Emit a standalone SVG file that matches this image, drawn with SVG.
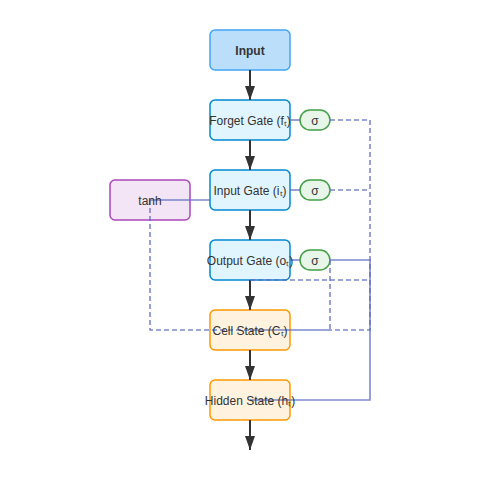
<svg xmlns="http://www.w3.org/2000/svg" width="500" height="500" viewBox="0 0 500 500">
<style>
.n rect{stroke-width:1.5}
.in rect{fill:#bbdefb;stroke:#42a5f5}
.g rect{fill:#e1f5fe;stroke:#0288d1}
.s rect{fill:#fff3e0;stroke:#ff9800}
.sig rect{fill:#e8f5e9;stroke:#43a047}
.th rect{fill:#f3e5f5;stroke:#ab47bc}
text{font-family:"Liberation Sans",Arial,sans-serif;font-size:12px;fill:#333;text-anchor:middle;dominant-baseline:central}
.flow{stroke:#333;stroke-width:2;fill:none}
.c{stroke:#5c6bc0;stroke-opacity:0.8;stroke-width:1.6;fill:none}
.d{stroke-dasharray:5 3}
</style>
<defs>
<marker id="ah" viewBox="0 0 14 10" refX="14" refY="5" markerWidth="7" markerHeight="5" orient="auto" markerUnits="strokeWidth">
<path d="M0,0 L14,5 L0,10 Z" fill="#333"/>
</marker>
</defs>
<g id="nodes">
<g id="input" class="n in"><rect x="210" y="30" width="80" height="40" rx="5"/></g>
<g id="forget" class="n g"><rect x="210" y="100" width="80" height="40" rx="5"/></g>
<g id="inputgate" class="n g"><rect x="210" y="170" width="80" height="40" rx="5"/></g>
<g id="outputgate" class="n g"><rect x="210" y="240" width="80" height="40" rx="5"/></g>
<g id="cell" class="n s"><rect x="210" y="310" width="80" height="40" rx="5"/></g>
<g id="hidden" class="n s"><rect x="210" y="380" width="80" height="40" rx="5"/></g>
<g id="sigf" class="n sig"><rect x="300" y="110" width="30" height="20" rx="10"/></g>
<g id="sigi" class="n sig"><rect x="300" y="180" width="30" height="20" rx="10"/></g>
<g id="sigo" class="n sig"><rect x="300" y="250" width="30" height="20" rx="10"/></g>
<g id="tanh" class="n th"><rect x="110" y="180" width="80" height="40" rx="5"/></g>
</g>
<g id="connectors">
<line class="flow" x1="250" y1="70" x2="250" y2="100" marker-end="url(#ah)"/>
<line class="flow" x1="250" y1="140" x2="250" y2="170" marker-end="url(#ah)"/>
<line class="flow" x1="250" y1="210" x2="250" y2="240" marker-end="url(#ah)"/>
<line class="flow" x1="250" y1="280" x2="250" y2="310" marker-end="url(#ah)"/>
<line class="flow" x1="250" y1="350" x2="250" y2="380" marker-end="url(#ah)"/>
<line class="flow" x1="250" y1="420" x2="250" y2="450" marker-end="url(#ah)"/>
<line class="c" x1="290" y1="120" x2="300" y2="120"/>
<line class="c" x1="290" y1="190" x2="300" y2="190"/>
<line class="c" x1="290" y1="260" x2="300" y2="260"/>
<line class="c" x1="150" y1="200" x2="210" y2="200"/>
<polyline class="c d" points="330,120 370,120 370,330 330,330"/>
<polyline class="c d" points="330,190 370,190"/>
<polyline class="c" points="330,260 370,260 370,400 250,400"/>
<polyline class="c d" points="250,280 370,280"/>
<polyline class="c d" points="330,260 330,330"/>
<polyline class="c d" points="150,200 150,330 250,330"/>
<polyline class="c" points="250,330 330,330"/>
</g>
<g id="labels">
<text x="250" y="51" font-weight="bold">Input</text>
<text x="250" y="121">Forget Gate (fₜ)</text>
<text x="250" y="191">Input Gate (iₜ)</text>
<text x="250" y="261">Output Gate (oₜ)</text>
<text x="250" y="331">Cell State (Cₜ)</text>
<text x="250" y="401">Hidden State (hₜ)</text>
<text x="315" y="121">σ</text>
<text x="315" y="191">σ</text>
<text x="315" y="261">σ</text>
<text x="150" y="201">tanh</text>
</g>
</svg>
